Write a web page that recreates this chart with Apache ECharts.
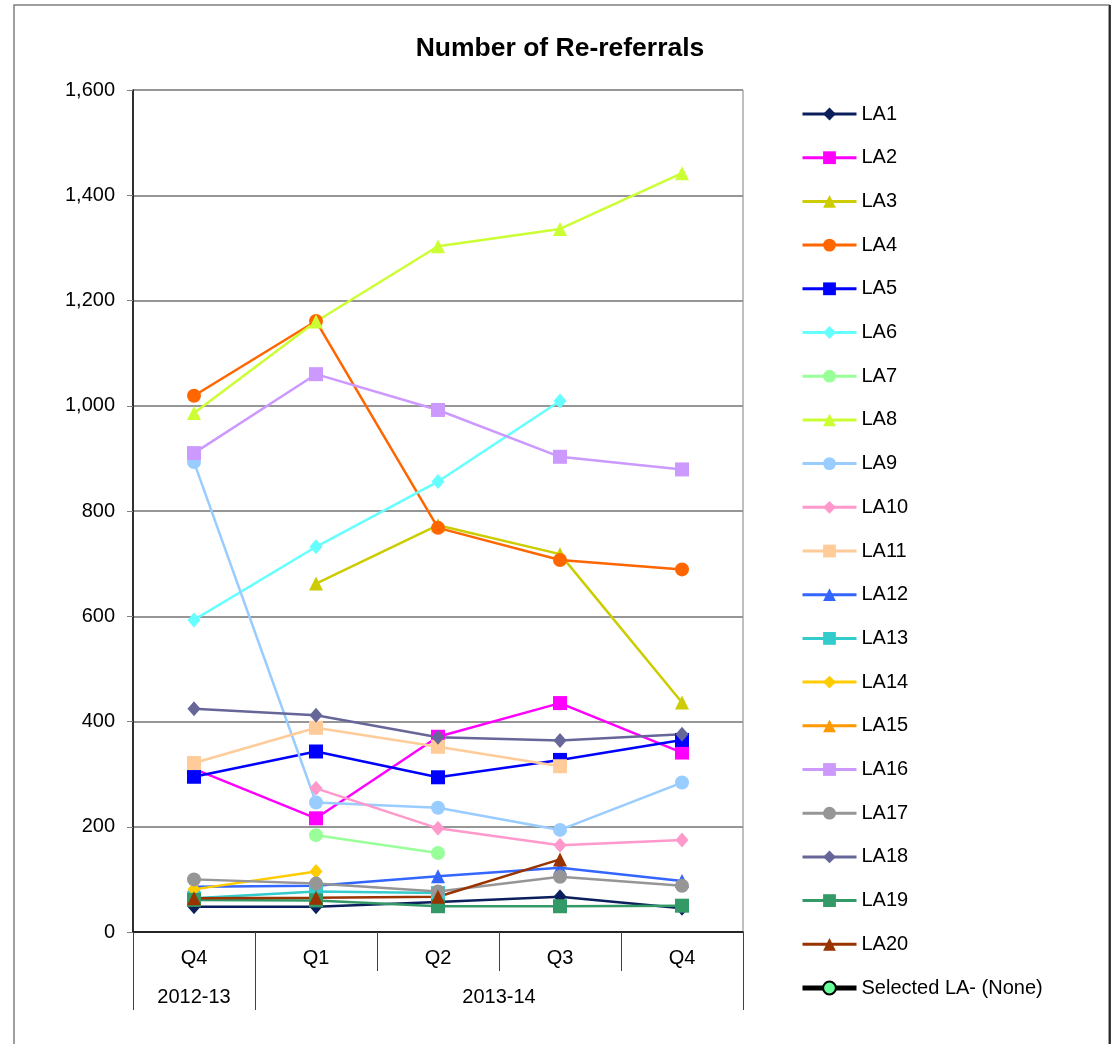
<!DOCTYPE html>
<html>
<head>
<meta charset="utf-8">
<script src="https://cdn.jsdelivr.net/npm/echarts@6/dist/echarts.min.js"></script>
<style>
  html, body { margin: 0; padding: 0; background: #fff; }
  #chart { width: 1112px; height: 1044px; }
</style>
</head>
<body>
<div id="chart"></div>
<script>
// quarters on the x axis, with the financial year they belong to
var quarters = ['Q4', 'Q1', 'Q2', 'Q3', 'Q4'];
var years = ['2012-13', '2013-14'];
var yearTicks = [0, 1, 5];       // group boundaries (in category units)
var yearCentres = [0.5, 3];      // where the year labels sit

var names = ['LA1', 'LA2', 'LA3', 'LA4', 'LA5', 'LA6', 'LA7', 'LA8', 'LA9', 'LA10',
    'LA11', 'LA12', 'LA13', 'LA14', 'LA15', 'LA16', 'LA17', 'LA18', 'LA19', 'LA20'];

// re-referrals per quarter
var la1 = [48, 48, 57, 67, 45];
var la2 = [310, 216, 371, 435, 341];
var la3 = [null, 662, 773, 718, 436];
var la4 = [1019, 1161, 768, 707, 689];
var la5 = [295, 343, 294, 327, 365];
var la6 = [593, 732, 856, 1009, null];
var la7 = [null, 184, 150, null, null];
var la8 = [986, 1160, 1303, 1336, 1442];
var la9 = [893, 246, 236, 194, 284];
var la10 = [null, 273, 197, 165, 175];
var la11 = [321, 388, 352, 315, null];
var la12 = [86, 88, 106, 122, 97];
var la13 = [64, 77, 74, null, null];
var la14 = [81, 115, null, null, null];
var la15 = [null, null, null, null, null];
var la16 = [910, 1060, 992, 903, 879];
var la17 = [100, 92, 77, 105, 88];
var la18 = [424, 412, 370, 364, 376];
var la19 = [61, 60, 49, 49, 50];
var la20 = [64, 65, 67, 138, null];
var selectedLA = [null, null, null, null, null];

var values = [la1, la2, la3, la4, la5, la6, la7, la8, la9, la10,
    la11, la12, la13, la14, la15, la16, la17, la18, la19, la20];

var colours = ['#0a1f5c', '#ff00ff', '#cccc00', '#ff6600', '#0000ff', '#66ffff', '#99ff99',
    '#ccff33', '#99ccff', '#ff99cc', '#ffcc99', '#3366ff', '#33cccc', '#ffcc00', '#ff9900',
    '#cc99ff', '#969696', '#666699', '#339966', '#993300'];
var symbols = ['diamond', 'rect', 'triangle', 'circle', 'rect', 'diamond', 'circle',
    'triangle', 'circle', 'diamond', 'rect', 'triangle', 'rect', 'diamond', 'triangle',
    'rect', 'circle', 'diamond', 'rect', 'triangle'];

var font = 'Liberation Sans, Arial, sans-serif';

var series = names.map(function (name, i) {
    return {
        name: name,
        type: 'line',
        data: values[i],
        symbol: symbols[i],
        symbolSize: symbols[i] == 'diamond' ? [13, 15] : 14,
        itemStyle: { color: colours[i] },
        lineStyle: { color: colours[i], width: 2.5 },
        emphasis: { disabled: true }
    };
});
series.push({
    name: 'Selected LA- (None)',
    type: 'line',
    data: selectedLA,
    symbol: 'circle',
    symbolSize: 10,
    itemStyle: { color: '#66ff99', borderColor: '#000', borderWidth: 1.5 },
    lineStyle: { color: '#000', width: 5 },
    emphasis: { disabled: true }
});

var legendData = series.map(function (s) {
    var item = { name: s.name };
    if (s.name.indexOf('Selected') === 0) {
        item.lineStyle = { width: 5, color: '#000' };
    }
    return item;
});

var chart = echarts.init(document.getElementById('chart'));
chart.setOption({
    animation: false,
    backgroundColor: '#fff',
    textStyle: { fontFamily: font },
    title: {
        text: 'Number of Re-referrals',
        left: 555,
        top: 30,
        textAlign: 'center',
        textStyle: { fontFamily: font, fontSize: 26.5, fontWeight: 'bold', color: '#000' }
    },
    graphic: [{
        type: 'rect',
        shape: { x: 14, y: 5, width: 1095, height: 1060 },
        style: { fill: null, stroke: '#808080', lineWidth: 1.5 },
        silent: true
    }, {
        type: 'line',
        shape: { x1: 1110, y1: 5, x2: 1110, y2: 1044 },
        style: { stroke: '#000', lineWidth: 1.5 },
        silent: true
    }],
    legend: {
        orient: 'vertical',
        left: 795,
        top: 99,
        itemWidth: 54,
        itemHeight: 16,
        itemGap: 23.7,
        selectedMode: false,
        lineStyle: { width: 3 },
        textStyle: { fontFamily: font, fontSize: 20, color: '#000', lineHeight: 20 },
        data: legendData
    },
    grid: {
        left: 133,
        top: 90,
        right: 369,
        bottom: 112,
        show: true,
        borderColor: '#808080',
        borderWidth: 1
    },
    xAxis: [{
        type: 'category',
        data: quarters,
        boundaryGap: true,
        axisLine: { show: true, lineStyle: { color: '#000', width: 1.5 } },
        axisTick: { show: true, interval: 0, length: 39, lineStyle: { color: '#404040' } },
        axisLabel: { interval: 0, margin: 16, fontSize: 20, color: '#000', fontFamily: font }
    }, {
        type: 'value',
        min: 0,
        max: 5,
        position: 'bottom',
        offset: 39,
        axisLine: { show: false },
        splitLine: { show: false },
        axisTick: { show: true, customValues: yearTicks, length: 39, lineStyle: { color: '#404040' } },
        axisLabel: {
            customValues: yearCentres,
            margin: 16,
            fontSize: 20,
            color: '#000',
            fontFamily: font,
            formatter: function (v) { return years[yearCentres.indexOf(v)]; }
        }
    }],
    yAxis: {
        type: 'value',
        min: 0,
        max: 1600,
        interval: 200,
        axisLine: { show: true, lineStyle: { color: '#000', width: 1.5 } },
        axisTick: { show: true, length: 6, lineStyle: { color: '#808080' } },
        axisLabel: {
            margin: 18,
            fontSize: 20,
            color: '#000',
            fontFamily: font,
            formatter: function (v) { return v.toLocaleString('en-US'); }
        },
        splitLine: { lineStyle: { color: '#969696', width: 2 } }
    },
    series: series
});
</script>
</body>
</html>
